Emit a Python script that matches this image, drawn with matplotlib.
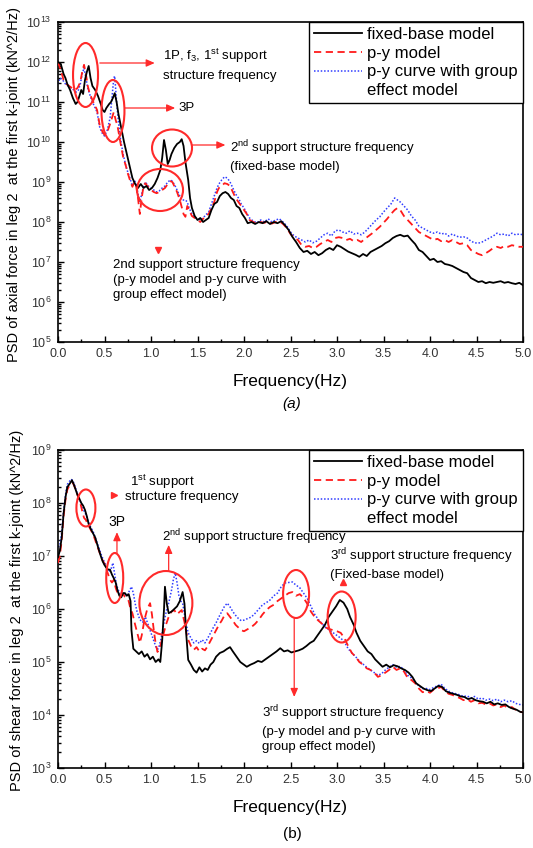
import numpy as np
import matplotlib
matplotlib.use("Agg")
import matplotlib.pyplot as plt
from matplotlib.patches import Ellipse
from matplotlib.lines import Line2D
from matplotlib.ticker import FixedLocator, MultipleLocator, NullFormatter, FormatStrFormatter, LogFormatterSciNotation

plt.rcParams['font.family'] = ['Liberation Sans', 'DejaVu Sans']
plt.rcParams['mathtext.fontset'] = 'custom'
plt.rcParams['mathtext.rm'] = 'Liberation Sans'
plt.rcParams['mathtext.it'] = 'Liberation Sans:italic'
plt.rcParams['mathtext.default'] = 'regular'

# ---------------- (a) PSD of axial force, log10 values ----------------
axial_fixed_f = [0.00, 0.03, 0.06, 0.08, 0.10, 0.13, 0.16, 0.19, 0.21, 0.23, 0.25, 0.27, 0.29, 0.31, 0.33, 0.35, 0.37, 0.40, 0.43, 0.46,
                 0.48, 0.50, 0.52, 0.55, 0.57, 0.59, 0.61, 0.63, 0.65, 0.68, 0.71, 0.74, 0.77, 0.80, 0.83, 0.86, 0.89, 0.92, 0.95, 0.98,
                 1.01, 1.04, 1.07, 1.10, 1.12, 1.14, 1.16, 1.18, 1.20, 1.22, 1.25, 1.28, 1.31, 1.33, 1.35, 1.37, 1.40, 1.42, 1.44, 1.47,
                 1.50, 1.53, 1.56, 1.59, 1.62, 1.65, 1.68, 1.71, 1.74, 1.77, 1.80, 1.83, 1.86, 1.89, 1.92, 1.95, 1.98, 2.01, 2.04, 2.08,
                 2.12, 2.16, 2.20, 2.24, 2.28, 2.32, 2.36, 2.40, 2.44, 2.48, 2.52, 2.56, 2.60, 2.64, 2.68, 2.72, 2.76, 2.80, 2.84, 2.88,
                 2.92, 2.96, 3.00, 3.04, 3.08, 3.12, 3.16, 3.20, 3.24, 3.28, 3.32, 3.36, 3.40, 3.44, 3.48, 3.52, 3.56, 3.60, 3.64, 3.68,
                 3.72, 3.76, 3.80, 3.84, 3.88, 3.92, 3.96, 4.00, 4.04, 4.08, 4.12, 4.16, 4.20, 4.24, 4.28, 4.32, 4.36, 4.40, 4.44, 4.48,
                 4.52, 4.56, 4.60, 4.64, 4.68, 4.72, 4.76, 4.80, 4.84, 4.88, 4.92, 4.96, 5.00]
axial_fixed_log = [12.00, 11.95, 11.70, 11.60, 11.45, 11.30, 11.10, 10.95, 11.00, 11.15, 11.30, 11.20, 11.55, 11.75, 11.90, 11.60, 11.40, 11.30, 11.15, 10.95,
                   10.80, 10.75, 10.85, 10.95, 11.00, 11.10, 11.22, 11.00, 10.70, 10.35, 10.00, 9.70, 9.40, 9.10, 8.95, 8.85, 8.95, 8.85, 8.90, 8.80,
                   8.85, 8.95, 9.10, 9.30, 9.60, 10.05, 9.80, 9.45, 9.55, 9.70, 9.85, 9.95, 10.00, 10.07, 9.90, 9.50, 9.05, 8.60, 8.35, 8.15,
                   8.05, 8.10, 8.00, 8.05, 8.10, 8.30, 8.45, 8.50, 8.65, 8.72, 8.75, 8.70, 8.60, 8.55, 8.40, 8.35, 8.20, 8.10, 7.97, 8.00,
                   7.95, 8.00, 7.97, 8.02, 7.95, 8.00, 7.97, 8.02, 7.92, 7.80, 7.63, 7.50, 7.35, 7.25, 7.28, 7.20, 7.25, 7.17, 7.22, 7.30,
                   7.35, 7.30, 7.42, 7.38, 7.32, 7.26, 7.22, 7.18, 7.13, 7.20, 7.15, 7.25, 7.30, 7.35, 7.40, 7.47, 7.52, 7.60, 7.65, 7.68,
                   7.64, 7.66, 7.55, 7.45, 7.30, 7.25, 7.15, 7.05, 7.08, 7.00, 7.02, 6.95, 6.93, 6.90, 6.85, 6.80, 6.75, 6.72, 6.60, 6.55,
                   6.50, 6.52, 6.47, 6.50, 6.48, 6.50, 6.52, 6.48, 6.50, 6.47, 6.45, 6.48, 6.42]

axial_py_f = [0.00, 0.03, 0.06, 0.09, 0.12, 0.15, 0.18, 0.21, 0.24, 0.26, 0.28, 0.30, 0.32, 0.34, 0.37, 0.40, 0.42, 0.45, 0.48, 0.50,
              0.53, 0.56, 0.58, 0.60, 0.62, 0.64, 0.67, 0.70, 0.73, 0.75, 0.78, 0.80, 0.82, 0.84, 0.86, 0.88, 0.90, 0.92, 0.94, 0.96,
              0.98, 1.00, 1.03, 1.06, 1.09, 1.12, 1.15, 1.18, 1.21, 1.23, 1.26, 1.28, 1.31, 1.33, 1.35, 1.37, 1.39, 1.41, 1.44, 1.47,
              1.50, 1.53, 1.56, 1.59, 1.62, 1.65, 1.68, 1.71, 1.73, 1.76, 1.79, 1.82, 1.85, 1.88, 1.91, 1.94, 1.97, 2.00, 2.03, 2.06,
              2.10, 2.14, 2.18, 2.22, 2.26, 2.30, 2.34, 2.38, 2.42, 2.46, 2.50, 2.54, 2.58, 2.62, 2.66, 2.70, 2.74, 2.78, 2.82, 2.86,
              2.90, 2.94, 2.98, 3.02, 3.06, 3.10, 3.14, 3.18, 3.22, 3.26, 3.30, 3.34, 3.38, 3.42, 3.46, 3.50, 3.54, 3.58, 3.62, 3.65,
              3.68, 3.72, 3.76, 3.80, 3.84, 3.88, 3.92, 3.96, 4.00, 4.04, 4.08, 4.12, 4.16, 4.20, 4.24, 4.28, 4.32, 4.36, 4.40, 4.44,
              4.48, 4.52, 4.56, 4.60, 4.64, 4.68, 4.72, 4.76, 4.80, 4.84, 4.88, 4.92, 4.96, 5.00]
axial_py_log = [12.00, 11.80, 11.55, 11.45, 11.40, 11.35, 11.30, 11.35, 11.50, 11.75, 11.93, 11.70, 11.40, 11.22, 11.05, 10.90, 10.80, 10.40, 10.25, 10.18,
                10.25, 10.45, 10.60, 10.75, 10.55, 10.40, 10.00, 9.63, 9.40, 9.22, 9.00, 8.88, 9.00, 8.90, 8.60, 8.20, 8.60, 8.90, 8.97, 8.90,
                8.85, 8.80, 8.75, 8.72, 8.75, 8.80, 8.85, 8.95, 9.02, 9.00, 8.85, 8.75, 8.55, 8.38, 8.20, 8.13, 8.40, 8.30, 8.15, 8.10,
                8.05, 8.00, 8.08, 8.15, 8.20, 8.35, 8.50, 8.75, 8.85, 8.90, 8.97, 8.95, 8.90, 8.75, 8.60, 8.50, 8.40, 8.30, 8.20, 8.05,
                8.00, 7.95, 8.00, 7.98, 8.02, 7.96, 8.00, 8.02, 7.95, 7.85, 7.70, 7.60, 7.55, 7.42, 7.38, 7.40, 7.35, 7.38, 7.45, 7.50,
                7.55, 7.50, 7.60, 7.62, 7.60, 7.55, 7.58, 7.52, 7.55, 7.50, 7.58, 7.65, 7.72, 7.80, 7.88, 7.98, 8.08, 8.20, 8.30, 8.35,
                8.30, 8.15, 8.05, 7.95, 7.85, 7.75, 7.70, 7.65, 7.60, 7.55, 7.58, 7.52, 7.55, 7.50, 7.55, 7.50, 7.45, 7.47, 7.42, 7.30,
                7.25, 7.20, 7.17, 7.22, 7.28, 7.35, 7.38, 7.35, 7.40, 7.38, 7.42, 7.40, 7.38, 7.38]

axial_group_f = [0.00, 0.02, 0.05, 0.08, 0.11, 0.14, 0.17, 0.20, 0.22, 0.24, 0.26, 0.28, 0.30, 0.32, 0.34, 0.37, 0.40, 0.42, 0.45, 0.48,
                 0.50, 0.53, 0.56, 0.58, 0.60, 0.61, 0.63, 0.65, 0.67, 0.70, 0.73, 0.75, 0.78, 0.80, 0.82, 0.84, 0.86, 0.88, 0.90, 0.92,
                 0.94, 0.97, 1.00, 1.03, 1.06, 1.09, 1.12, 1.15, 1.18, 1.21, 1.23, 1.26, 1.28, 1.31, 1.33, 1.35, 1.37, 1.39, 1.41, 1.44,
                 1.47, 1.50, 1.53, 1.56, 1.59, 1.62, 1.65, 1.68, 1.71, 1.73, 1.76, 1.79, 1.82, 1.85, 1.88, 1.91, 1.94, 1.97, 2.00, 2.03,
                 2.06, 2.10, 2.14, 2.18, 2.22, 2.26, 2.30, 2.34, 2.38, 2.42, 2.46, 2.50, 2.54, 2.58, 2.62, 2.66, 2.70, 2.74, 2.78, 2.82,
                 2.86, 2.90, 2.94, 2.98, 3.02, 3.06, 3.10, 3.14, 3.18, 3.22, 3.26, 3.30, 3.34, 3.38, 3.42, 3.46, 3.50, 3.54, 3.58, 3.62,
                 3.65, 3.68, 3.72, 3.76, 3.80, 3.84, 3.88, 3.92, 3.96, 4.00, 4.04, 4.08, 4.12, 4.16, 4.20, 4.24, 4.28, 4.32, 4.36, 4.40,
                 4.44, 4.48, 4.52, 4.56, 4.60, 4.64, 4.68, 4.72, 4.76, 4.80, 4.84, 4.88, 4.92, 4.96, 5.00]
axial_group_log = [11.45, 11.60, 11.55, 11.45, 11.40, 11.35, 11.30, 11.25, 11.30, 11.45, 11.70, 11.85, 11.60, 11.35, 11.20, 11.00, 10.85, 10.75, 10.35, 10.20,
                   10.15, 10.30, 10.60, 11.10, 11.60, 11.65, 11.00, 10.50, 10.10, 9.70, 9.40, 9.25, 9.05, 8.90, 9.05, 8.95, 8.70, 8.50, 8.70, 8.90,
                   9.00, 8.90, 8.85, 8.80, 8.75, 8.78, 8.85, 8.90, 9.00, 9.05, 9.02, 8.90, 8.80, 8.65, 8.55, 8.55, 8.55, 8.50, 8.35, 8.20,
                   8.12, 8.08, 8.05, 8.10, 8.18, 8.25, 8.45, 8.65, 8.85, 8.95, 9.05, 9.13, 9.10, 9.00, 8.85, 8.70, 8.60, 8.45, 8.35, 8.22,
                   8.10, 8.02, 7.98, 8.05, 8.00, 8.08, 8.00, 8.05, 8.08, 8.00, 7.90, 7.75, 7.65, 7.60, 7.55, 7.50, 7.55, 7.48, 7.52, 7.60,
                   7.68, 7.72, 7.65, 7.78, 7.80, 7.75, 7.72, 7.78, 7.70, 7.72, 7.68, 7.75, 7.85, 7.95, 8.05, 8.13, 8.25, 8.35, 8.45, 8.60,
                   8.55, 8.50, 8.40, 8.30, 8.15, 8.05, 7.90, 7.85, 7.80, 7.75, 7.72, 7.75, 7.70, 7.72, 7.65, 7.70, 7.65, 7.62, 7.63, 7.60,
                   7.52, 7.48, 7.47, 7.50, 7.55, 7.60, 7.65, 7.72, 7.68, 7.70, 7.65, 7.72, 7.68, 7.70, 7.68]

# ---------------- (b) PSD of shear force, log10 values ----------------
shear_fixed_f = [0.00, 0.02, 0.04, 0.06, 0.08, 0.10, 0.12, 0.14, 0.15, 0.17, 0.19, 0.21, 0.23, 0.25, 0.27, 0.29, 0.31, 0.33, 0.35, 0.37,
                 0.40, 0.43, 0.46, 0.48, 0.50, 0.53, 0.56, 0.58, 0.60, 0.62, 0.64, 0.66, 0.68, 0.70, 0.72, 0.74, 0.76, 0.78, 0.79, 0.81,
                 0.84, 0.87, 0.90, 0.93, 0.96, 0.99, 1.02, 1.05, 1.08, 1.10, 1.12, 1.14, 1.15, 1.17, 1.19, 1.22, 1.25, 1.28, 1.31, 1.34,
                 1.36, 1.38, 1.40, 1.43, 1.46, 1.49, 1.52, 1.55, 1.58, 1.61, 1.64, 1.67, 1.70, 1.74, 1.78, 1.82, 1.85, 1.88, 1.92, 1.96,
                 2.00, 2.03, 2.07, 2.11, 2.15, 2.19, 2.23, 2.27, 2.31, 2.35, 2.39, 2.43, 2.47, 2.51, 2.55, 2.59, 2.63, 2.67, 2.71, 2.75,
                 2.79, 2.83, 2.87, 2.91, 2.95, 2.99, 3.03, 3.07, 3.11, 3.14, 3.18, 3.21, 3.25, 3.29, 3.33, 3.37, 3.41, 3.45, 3.49, 3.53,
                 3.57, 3.61, 3.65, 3.69, 3.73, 3.77, 3.81, 3.85, 3.89, 3.93, 3.97, 4.01, 4.05, 4.09, 4.13, 4.17, 4.21, 4.25, 4.29, 4.33,
                 4.37, 4.41, 4.45, 4.49, 4.53, 4.57, 4.61, 4.65, 4.69, 4.73, 4.77, 4.81, 4.85, 4.89, 4.93, 4.97, 5.00]
shear_fixed_log = [6.98, 7.10, 7.35, 7.80, 8.10, 8.30, 8.35, 8.40, 8.43, 8.35, 8.25, 8.15, 8.08, 8.00, 7.95, 7.87, 7.75, 7.60, 7.52, 7.45,
                   7.35, 7.17, 7.00, 6.90, 6.83, 6.75, 6.74, 6.65, 6.58, 6.50, 6.35, 6.25, 6.22, 6.30, 6.30, 6.25, 6.28, 6.15, 5.60, 5.25,
                   5.20, 5.15, 5.20, 5.10, 5.15, 5.05, 5.10, 5.00, 5.05, 5.00, 5.40, 6.00, 6.42, 6.10, 5.92, 5.95, 6.00, 6.05, 6.15, 6.32,
                   6.10, 5.50, 5.04, 4.95, 4.85, 4.80, 4.90, 4.82, 4.88, 4.85, 4.95, 5.00, 5.10, 5.17, 5.20, 5.25, 5.28, 5.20, 5.10, 5.00,
                   4.95, 4.91, 4.95, 4.98, 5.02, 5.00, 5.05, 5.10, 5.15, 5.20, 5.26, 5.20, 5.22, 5.18, 5.20, 5.22, 5.25, 5.30, 5.36, 5.40,
                   5.50, 5.60, 5.70, 5.85, 5.95, 6.05, 6.17, 6.12, 6.00, 5.85, 5.70, 5.55, 5.40, 5.30, 5.20, 5.15, 5.05, 4.98, 4.91, 4.95,
                   4.90, 4.94, 4.92, 4.88, 4.85, 4.80, 4.72, 4.60, 4.55, 4.50, 4.47, 4.45, 4.50, 4.55, 4.53, 4.45, 4.42, 4.40, 4.38, 4.35,
                   4.34, 4.30, 4.32, 4.28, 4.26, 4.25, 4.22, 4.25, 4.20, 4.22, 4.19, 4.20, 4.15, 4.12, 4.10, 4.06, 4.05]

shear_py_f = [0.00, 0.02, 0.04, 0.06, 0.08, 0.10, 0.12, 0.14, 0.16, 0.18, 0.20, 0.22, 0.24, 0.26, 0.28, 0.30, 0.32, 0.35, 0.38, 0.41,
              0.44, 0.47, 0.50, 0.53, 0.56, 0.58, 0.60, 0.62, 0.64, 0.66, 0.68, 0.70, 0.72, 0.74, 0.76, 0.78, 0.80, 0.83, 0.86, 0.88,
              0.90, 0.93, 0.96, 0.99, 1.01, 1.03, 1.05, 1.07, 1.10, 1.13, 1.16, 1.19, 1.22, 1.25, 1.28, 1.31, 1.33, 1.36, 1.38, 1.40,
              1.43, 1.46, 1.49, 1.52, 1.55, 1.58, 1.61, 1.64, 1.67, 1.70, 1.73, 1.76, 1.79, 1.82, 1.85, 1.88, 1.91, 1.94, 1.97, 2.00,
              2.04, 2.08, 2.12, 2.16, 2.20, 2.24, 2.28, 2.32, 2.36, 2.40, 2.44, 2.48, 2.52, 2.56, 2.60, 2.64, 2.68, 2.72, 2.76, 2.80,
              2.84, 2.88, 2.92, 2.96, 3.00, 3.04, 3.08, 3.12, 3.16, 3.20, 3.24, 3.28, 3.32, 3.36, 3.40, 3.44, 3.48, 3.52, 3.56, 3.60,
              3.64, 3.68, 3.72, 3.76, 3.80, 3.84, 3.88, 3.92, 3.96, 4.00, 4.04, 4.08, 4.12, 4.16, 4.20, 4.24, 4.28, 4.32, 4.36, 4.40,
              4.44, 4.48, 4.52, 4.56, 4.60, 4.64, 4.68, 4.72, 4.76, 4.80, 4.84, 4.88, 4.92, 4.96, 5.00]
shear_py_log = [6.87, 7.00, 7.30, 7.75, 8.05, 8.25, 8.32, 8.36, 8.38, 8.30, 8.20, 8.10, 8.00, 7.85, 7.72, 7.68, 7.60, 7.50, 7.40, 7.25,
                7.10, 6.95, 6.85, 6.70, 6.55, 6.50, 6.55, 6.40, 6.30, 6.30, 6.25, 6.28, 6.23, 6.20, 6.15, 6.00, 5.92, 5.70, 5.50, 5.36,
                5.50, 5.80, 6.00, 6.11, 5.90, 5.60, 5.35, 5.19, 5.30, 5.50, 5.70, 5.85, 5.95, 5.98, 5.90, 5.95, 5.98, 5.75, 5.55, 5.42,
                5.30, 5.23, 5.28, 5.20, 5.25, 5.22, 5.30, 5.40, 5.50, 5.60, 5.70, 5.78, 5.88, 5.92, 5.85, 5.78, 5.70, 5.65, 5.60, 5.58,
                5.62, 5.66, 5.72, 5.80, 5.90, 5.98, 6.04, 6.08, 6.15, 6.20, 6.25, 6.30, 6.32, 6.25, 6.28, 6.21, 6.10, 5.95, 5.85, 5.78,
                5.72, 5.65, 5.62, 5.60, 5.58, 5.55, 5.45, 5.30, 5.17, 5.10, 5.00, 4.95, 4.88, 4.85, 4.80, 4.72, 4.75, 4.80, 4.85, 4.91,
                4.85, 4.88, 4.82, 4.70, 4.66, 4.60, 4.50, 4.43, 4.45, 4.42, 4.48, 4.50, 4.53, 4.45, 4.40, 4.38, 4.35, 4.32, 4.28, 4.30,
                4.25, 4.28, 4.22, 4.23, 4.20, 4.22, 4.18, 4.20, 4.15, 4.18, 4.12, 4.15, 4.10, 4.06, 4.05]

shear_group_f = [0.00, 0.02, 0.04, 0.06, 0.08, 0.10, 0.12, 0.14, 0.16, 0.18, 0.20, 0.22, 0.24, 0.26, 0.28, 0.30, 0.32, 0.35, 0.38, 0.41,
                 0.44, 0.47, 0.50, 0.53, 0.55, 0.57, 0.59, 0.61, 0.63, 0.65, 0.67, 0.69, 0.71, 0.73, 0.75, 0.77, 0.79, 0.81, 0.83, 0.85,
                 0.88, 0.91, 0.94, 0.97, 1.00, 1.03, 1.06, 1.08, 1.11, 1.14, 1.17, 1.19, 1.22, 1.24, 1.26, 1.28, 1.30, 1.32, 1.34, 1.36,
                 1.38, 1.40, 1.43, 1.46, 1.49, 1.52, 1.55, 1.58, 1.61, 1.64, 1.67, 1.70, 1.73, 1.76, 1.79, 1.82, 1.85, 1.88, 1.91, 1.94,
                 1.97, 2.00, 2.04, 2.08, 2.12, 2.16, 2.20, 2.24, 2.28, 2.32, 2.36, 2.40, 2.44, 2.48, 2.52, 2.56, 2.60, 2.64, 2.68, 2.72,
                 2.76, 2.80, 2.84, 2.88, 2.92, 2.96, 3.00, 3.04, 3.08, 3.12, 3.16, 3.20, 3.24, 3.28, 3.32, 3.36, 3.40, 3.44, 3.48, 3.52,
                 3.56, 3.60, 3.64, 3.68, 3.72, 3.76, 3.80, 3.84, 3.88, 3.92, 3.96, 4.00, 4.04, 4.08, 4.12, 4.16, 4.20, 4.24, 4.28, 4.32,
                 4.36, 4.40, 4.44, 4.48, 4.52, 4.56, 4.60, 4.64, 4.68, 4.72, 4.76, 4.80, 4.84, 4.88, 4.92, 4.96, 5.00]
shear_group_log = [7.17, 7.20, 7.45, 7.85, 8.15, 8.35, 8.40, 8.45, 8.42, 8.33, 8.22, 8.12, 8.03, 7.95, 7.85, 7.78, 7.68, 7.55, 7.45, 7.30,
                   7.15, 7.00, 6.88, 6.78, 6.70, 6.75, 6.87, 6.65, 6.45, 6.35, 6.28, 6.30, 6.30, 6.25, 6.28, 6.35, 6.42, 6.30, 6.10, 5.95,
                   5.80, 5.75, 5.85, 5.70, 5.55, 5.40, 5.25, 5.25, 5.45, 5.75, 6.00, 6.11, 6.35, 6.55, 6.68, 6.50, 6.25, 6.15, 6.11, 5.90,
                   5.70, 5.55, 5.45, 5.36, 5.40, 5.35, 5.42, 5.36, 5.45, 5.55, 5.65, 5.74, 5.85, 5.95, 6.05, 6.11, 6.04, 5.95, 5.88, 5.82,
                   5.78, 5.79, 5.82, 5.85, 5.92, 6.00, 6.08, 6.12, 6.17, 6.25, 6.30, 6.42, 6.49, 6.50, 6.51, 6.45, 6.40, 6.30, 6.20, 6.05,
                   5.90, 5.80, 5.72, 5.65, 5.60, 5.55, 5.50, 5.45, 5.38, 5.25, 5.17, 5.10, 5.02, 4.96, 4.90, 4.85, 4.80, 4.75, 4.78, 4.85,
                   4.90, 4.95, 4.90, 4.92, 4.85, 4.75, 4.70, 4.62, 4.55, 4.50, 4.50, 4.48, 4.52, 4.55, 4.58, 4.50, 4.45, 4.42, 4.40, 4.38,
                   4.35, 4.36, 4.32, 4.35, 4.30, 4.32, 4.28, 4.30, 4.27, 4.30, 4.25, 4.28, 4.25, 4.27, 4.22, 4.20, 4.19]

series_labels = ["fixed-base model", "p-y model", "p-y curve with group"]
legend_extra = "effect model"

RED = "#ff1a1a"
BLUE = "#2f3cff"
ANN = "#ff2a2a"

fig = plt.figure(figsize=(5.33, 8.48), dpi=100)
W, H = 533.0, 848.0


def px_axes(left, top, right, bottom):
    return fig.add_axes([left / W, 1 - bottom / H, (right - left) / W, (bottom - top) / H])


ax1 = px_axes(58, 22, 523, 342)
ax2 = px_axes(58, 450, 523, 768)


def draw_panel(ax, data, ylo, yhi):
    (ff, fl), (pf, pl), (gf, gl) = data
    ax.plot(ff, np.power(10.0, fl), color="black", lw=1.3, label=series_labels[0], zorder=4)
    ax.plot(pf, np.power(10.0, pl), color=RED, lw=1.3, ls=(0, (4, 2.5)), label=series_labels[1], zorder=3)
    ax.plot(gf, np.power(10.0, gl), color=BLUE, lw=1.1, ls=(0, (1, 1.2)), label=series_labels[2], zorder=2)
    ax.set_yscale("log")
    ax.set_xlim(0, 5)
    ax.set_ylim(10.0 ** ylo, 10.0 ** yhi)
    ax.xaxis.set_major_locator(MultipleLocator(0.5))
    ax.xaxis.set_minor_locator(MultipleLocator(0.25))
    ax.xaxis.set_major_formatter(FormatStrFormatter("%.1f"))
    decades = np.arange(ylo, yhi + 1)
    ax.yaxis.set_major_locator(FixedLocator(10.0 ** decades))
    ax.yaxis.set_major_formatter(LogFormatterSciNotation())
    minors = [m * 10.0 ** d for d in decades[:-1] for m in range(2, 10)]
    ax.yaxis.set_minor_locator(FixedLocator(minors))
    ax.yaxis.set_minor_formatter(NullFormatter())
    ax.tick_params(which="both", direction="in", top=False, right=False,
                   labelsize=9, labelcolor="#333333", width=1.0)
    ax.tick_params(which="major", length=4.5, pad=4.5)
    ax.tick_params(which="minor", length=2.5)
    for s in ax.spines.values():
        s.set_linewidth(1.2)
    ax.set_xlabel("Frequency(Hz)", fontsize=12.5, labelpad=10)
    handles, labels = ax.get_legend_handles_labels()
    handles.append(Line2D([], [], color="none"))
    labels.append(legend_extra)
    leg = ax.legend(handles, labels, loc="upper right", borderaxespad=0, fontsize=12,
                    frameon=True, fancybox=False, framealpha=1, edgecolor="black",
                    handlelength=2.9, handletextpad=0.3, borderpad=0.3, labelspacing=0.22)
    leg.get_frame().set_linewidth(1.0)
    return ax


draw_panel(ax1, [(axial_fixed_f, axial_fixed_log), (axial_py_f, axial_py_log), (axial_group_f, axial_group_log)], 5, 13)
draw_panel(ax2, [(shear_fixed_f, shear_fixed_log), (shear_py_f, shear_py_log), (shear_group_f, shear_group_log)], 3, 9)

fig.text(14 / W, 1 - 184 / H, "PSD of axial force in leg 2  at the first k-joint (kN^2/Hz)",
         rotation=90, ha="center", va="center", fontsize=10.5)
fig.text(17 / W, 1 - 610 / H, "PSD of shear force in leg 2  at the first k-joint (kN^2/Hz)",
         rotation=90, ha="center", va="center", fontsize=10.5)
fig.text(292 / W, 1 - 404 / H, "(a)", ha="center", va="center", fontsize=11, style="italic")
fig.text(292 / W, 1 - 834 / H, "(b)", ha="center", va="center", fontsize=11)


def ring(ax, f, logv, w_px, h_px, ax_w, ax_h):
    pt = (ax.transData + ax.transAxes.inverted()).transform((f, 10.0 ** logv))
    ax.add_patch(Ellipse(pt, w_px / ax_w, h_px / ax_h, transform=ax.transAxes,
                         fill=False, edgecolor=ANN, lw=1.5, zorder=6, clip_on=False))


def arrow(ax, p0, p1):
    ax.annotate("", xy=(p1[0], 10.0 ** p1[1]), xytext=(p0[0], 10.0 ** p0[1]),
                arrowprops=dict(arrowstyle="-|>,head_length=0.5,head_width=0.22", color=ANN, lw=0.9,
                                shrinkA=0, shrinkB=0), zorder=6, annotation_clip=False)


def marker(ax, f, logv, m):
    ax.plot([f], [10.0 ** logv], marker=m, color=ANN, ms=4, zorder=6, clip_on=False)


AW1, AH1 = 465.0, 320.0
AW2, AH2 = 465.0, 318.0
ann_fs = 9.5

# panel (a) annotations
ring(ax1, 0.296, 11.675, 25, 64, AW1, AH1)
ring(ax1, 0.591, 10.775, 23, 62, AW1, AH1)
ring(ax1, 1.226, 9.85, 40, 37, AW1, AH1)
ring(ax1, 1.097, 8.80, 46, 42, AW1, AH1)
arrow(ax1, (0.45, 11.975), (1.04, 11.975))
ax1.text(1.13, 10.0 ** 11.95, "1P, f$_3$, 1$^{st}$ support\nstructure frequency", fontsize=ann_fs,
         va="center", ha="left", linespacing=1.55)
arrow(ax1, (0.72, 10.85), (1.26, 10.85))
ax1.text(1.29, 10.0 ** 10.85, "3P", fontsize=ann_fs, va="center", ha="left")
arrow(ax1, (1.44, 9.925), (1.80, 9.925))
ax1.text(1.85, 10.0 ** 9.66, "2$^{nd}$ support structure frequency\n(fixed-base model)", fontsize=ann_fs,
         va="center", ha="left", linespacing=1.3)
marker(ax1, 1.075, 7.30, "v")
ax1.text(0.59, 10.0 ** 6.55, "2nd support structure frequency\n(p-y model and p-y curve with\ngroup effect model)",
         fontsize=ann_fs, va="center", ha="left", linespacing=1.3)

# panel (b) annotations
ring(ax2, 0.30, 7.906, 19, 37, AW2, AH2)
ring(ax2, 0.61, 6.585, 17, 50, AW2, AH2)
ring(ax2, 1.16, 6.113, 53, 64, AW2, AH2)
ring(ax2, 2.56, 6.283, 26, 48, AW2, AH2)
ring(ax2, 3.05, 5.849, 28, 51, AW2, AH2)
marker(ax2, 0.60, 8.15, ">")
ax2.text(0.774, 10.0 ** 8.396, "1$^{st}$ support", fontsize=ann_fs, va="center", ha="left")
ax2.text(0.72, 10.0 ** 8.113, "structure frequency", fontsize=ann_fs, va="center", ha="left")
arrow(ax2, (0.634, 7.057), (0.634, 7.45))
ax2.text(0.634, 10.0 ** 7.64, "3P", fontsize=ann_fs + 0.5, va="center", ha="center")
arrow(ax2, (1.19, 6.717), (1.19, 7.21))
ax2.text(1.118, 10.0 ** 7.358, "2$^{nd}$ support structure frequency", fontsize=ann_fs, va="center", ha="left")
arrow(ax2, (2.54, 5.83), (2.54, 4.34))
ax2.text(2.19, 10.0 ** 3.75, "3$^{rd}$ support structure frequency\n(p-y model and p-y curve with\ngroup effect model)",
         fontsize=ann_fs, va="center", ha="left", linespacing=1.3)
marker(ax2, 3.06, 6.51, "^")
ax2.text(2.92, 10.0 ** 6.85, "3$^{rd}$ support structure frequency\n(Fixed-base model)", fontsize=ann_fs,
         va="center", ha="left", linespacing=1.3)

fig.savefig("out.png", dpi=100)
